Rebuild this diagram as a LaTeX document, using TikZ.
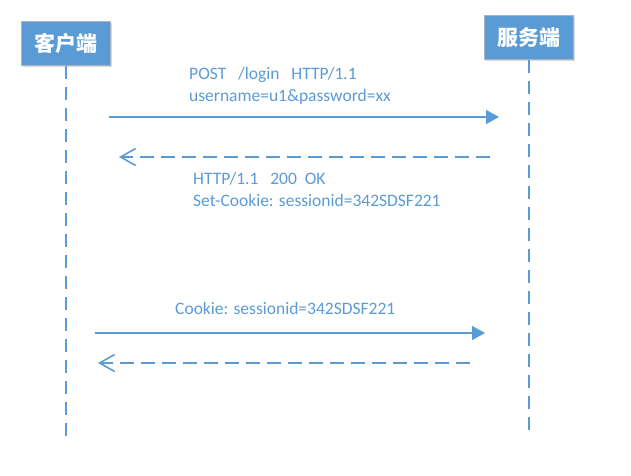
\documentclass[tikz,border=0pt]{standalone}
\usepackage{fontspec}
\setmainfont{Carlito}
\newfontfamily\cjk{Noto Sans CJK SC}
\usepackage{tikz}
\usetikzlibrary{arrows.meta,positioning,shadows,calc}
\definecolor{msblue}{HTML}{5B9BD5}
\definecolor{boxline}{HTML}{A9B4BF}

\begin{document}
\begin{tikzpicture}[x=1pt,y=-1pt,
    actor/.style={draw=boxline,line width=1pt,fill=msblue,text=white,
        minimum width=89pt,minimum height=44pt,inner sep=0pt,
        font=\cjk\bfseries\fontsize{21}{24}\selectfont,
        drop shadow={shadow xshift=1.5pt,shadow yshift=-1.5pt,opacity=0.15,fill=black}},
    life/.style={msblue,line width=1.8pt,dash pattern=on 13pt off 8pt},
    msg/.style={msblue,line width=1.8pt,-{Triangle[length=13pt,width=14pt]}},
    reply/.style={msblue,line width=1.8pt,dash pattern=on 14pt off 7pt,
        -{Straight Barb[length=15pt,width=17pt,line width=1.6pt]}},
    lbl/.style={text=msblue,font=\fontsize{17.5}{21.5}\selectfont,align=left,
        anchor=north west,inner sep=0pt}]
    \useasboundingbox (0,0) rectangle (631,475);

    % the two parties and their lifelines
    \node [actor] (cli) at (66,43) {客户端};
    \node [actor] (srv) at (529,37.5) {服务端};
    \coordinate (cliend) at (66,436);
    \coordinate (srvend) at (529,434);
    \draw [life] (cli.south) -- (cliend);
    \draw [life] (srv.south) -- (srvend);

    % login
    \coordinate (p1) at (109,117);
    \coordinate (q1) at (499,117);
    \coordinate (p2) at (490,157);
    \coordinate (q2) at (119,157);
    \draw [msg] (p1) -- (q1);
    \draw [reply] (p2) -- (q2);
    \node [lbl] (req) at (189,67.5) {POST\ \ \ /login\ \ \ HTTP/1.1\\username=u1\&password=xx};
    \node [lbl] (res) at (193,172.5) {HTTP/1.1\ \ \ 200\ \ OK\\Set-Cookie: sessionid=342SDSF221};

    % next request with the cookie
    \coordinate (p3) at (95,333);
    \coordinate (q3) at (485,333);
    \coordinate (p4) at (470,363);
    \coordinate (q4) at (98,363);
    \draw [msg] (p3) -- (q3);
    \draw [reply] (p4) -- (q4);
    \node [lbl] (ck) at (175,302) {Cookie: sessionid=342SDSF221};
\end{tikzpicture}
\end{document}
